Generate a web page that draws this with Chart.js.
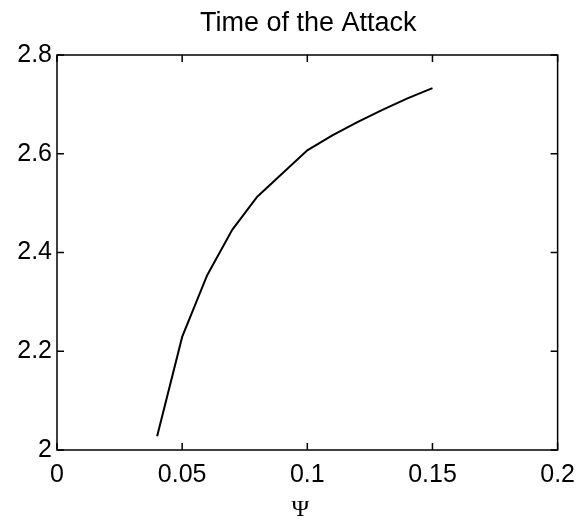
<!DOCTYPE html>
<html>
<head>
<meta charset="utf-8">
<script src="https://cdn.jsdelivr.net/npm/chart.js@4/dist/chart.umd.min.js"></script>
<style>
html,body{margin:0;padding:0;background:#fff;}
#wrap{width:585px;height:524px;}
</style>
</head>
<body>
<div id="wrap"><canvas id="c" width="585" height="524"></canvas></div>
<script>
// values
const psi = [0.04, 0.05, 0.06, 0.07, 0.08, 0.09, 0.10, 0.11, 0.12, 0.13, 0.14, 0.15];
const attackTime = [2.028, 2.229, 2.354, 2.446, 2.513, 2.56, 2.607, 2.637, 2.664, 2.689, 2.712, 2.733];
const xTicks = [0, 0.05, 0.1, 0.15, 0.2];
const yTicks = [2, 2.2, 2.4, 2.6, 2.8];
const chartTitle = "Time of the Attack";
const xLabel = "Ψ";

const points = psi.map((x, i) => ({x: x, y: attackTime[i]}));

// box + inward ticks on all four sides, title and axis label
const frame = {
    id: "frame",
    afterDraw(chart){
        const ctx = chart.ctx;
        const a = chart.chartArea;
        const xs = chart.scales.x, ys = chart.scales.y;
        ctx.save();
        ctx.strokeStyle = "#000";
        ctx.lineWidth = 1.5;
        ctx.strokeRect(a.left, a.top, a.right - a.left, a.bottom - a.top);
        ctx.beginPath();
        xTicks.forEach(v=>{
            const px = xs.getPixelForValue(v);
            ctx.moveTo(px, a.bottom); ctx.lineTo(px, a.bottom - 7);
            ctx.moveTo(px, a.top); ctx.lineTo(px, a.top + 7);
        });
        yTicks.forEach(v=>{
            const py = ys.getPixelForValue(v);
            ctx.moveTo(a.left, py); ctx.lineTo(a.left + 7, py);
            ctx.moveTo(a.right, py); ctx.lineTo(a.right - 7, py);
        });
        ctx.stroke();
        ctx.fillStyle = "#000";
        ctx.textAlign = "center";
        ctx.textBaseline = "middle";
        ctx.font = "27px 'Liberation Sans', Arial, sans-serif";
        ctx.fillText(chartTitle, (a.left + a.right) / 2 + 1, 24);
        ctx.font = "24px 'Liberation Serif', 'DejaVu Serif', serif";
        ctx.fillText(xLabel, (a.left + a.right) / 2 - 7, 510);
        ctx.restore();
    }
};

new Chart(document.getElementById("c"), {
    type: "scatter",
    data: {
        datasets: [{
            data: points,
            showLine: true,
            borderColor: "#000",
            borderWidth: 2,
            pointRadius: 0,
            tension: 0,
            fill: false
        }]
    },
    options: {
        responsive: false,
        animation: false,
        devicePixelRatio: 1,
        layout: { padding: { top: 55, right: 24, left: 0, bottom: 0 } },
        plugins: { legend: { display: false }, tooltip: { enabled: false }, title: { display: false } },
        scales: {
            x: {
                type: "linear",
                min: 0, max: 0.2,
                afterBuildTicks: s => { s.ticks = xTicks.map(v => ({value: v})); },
                afterFit: s => { s.height = 74; },
                grid: { display: false, drawTicks: false },
                border: { display: false },
                ticks: {
                    color: "#000",
                    padding: 10,
                    maxRotation: 0,
                    autoSkip: false,
                    font: { family: "'Liberation Sans', Arial, sans-serif", size: 25 },
                    callback: v => String(v)
                }
            },
            y: {
                min: 2, max: 2.8,
                afterBuildTicks: s => { s.ticks = yTicks.map(v => ({value: v})); },
                afterFit: s => { s.width = 57; },
                grid: { display: false, drawTicks: false },
                border: { display: false },
                ticks: {
                    color: "#000",
                    padding: 5,
                    font: { family: "'Liberation Sans', Arial, sans-serif", size: 25 },
                    callback: v => String(v)
                }
            }
        }
    },
    plugins: [frame]
});
</script>
</body>
</html>
